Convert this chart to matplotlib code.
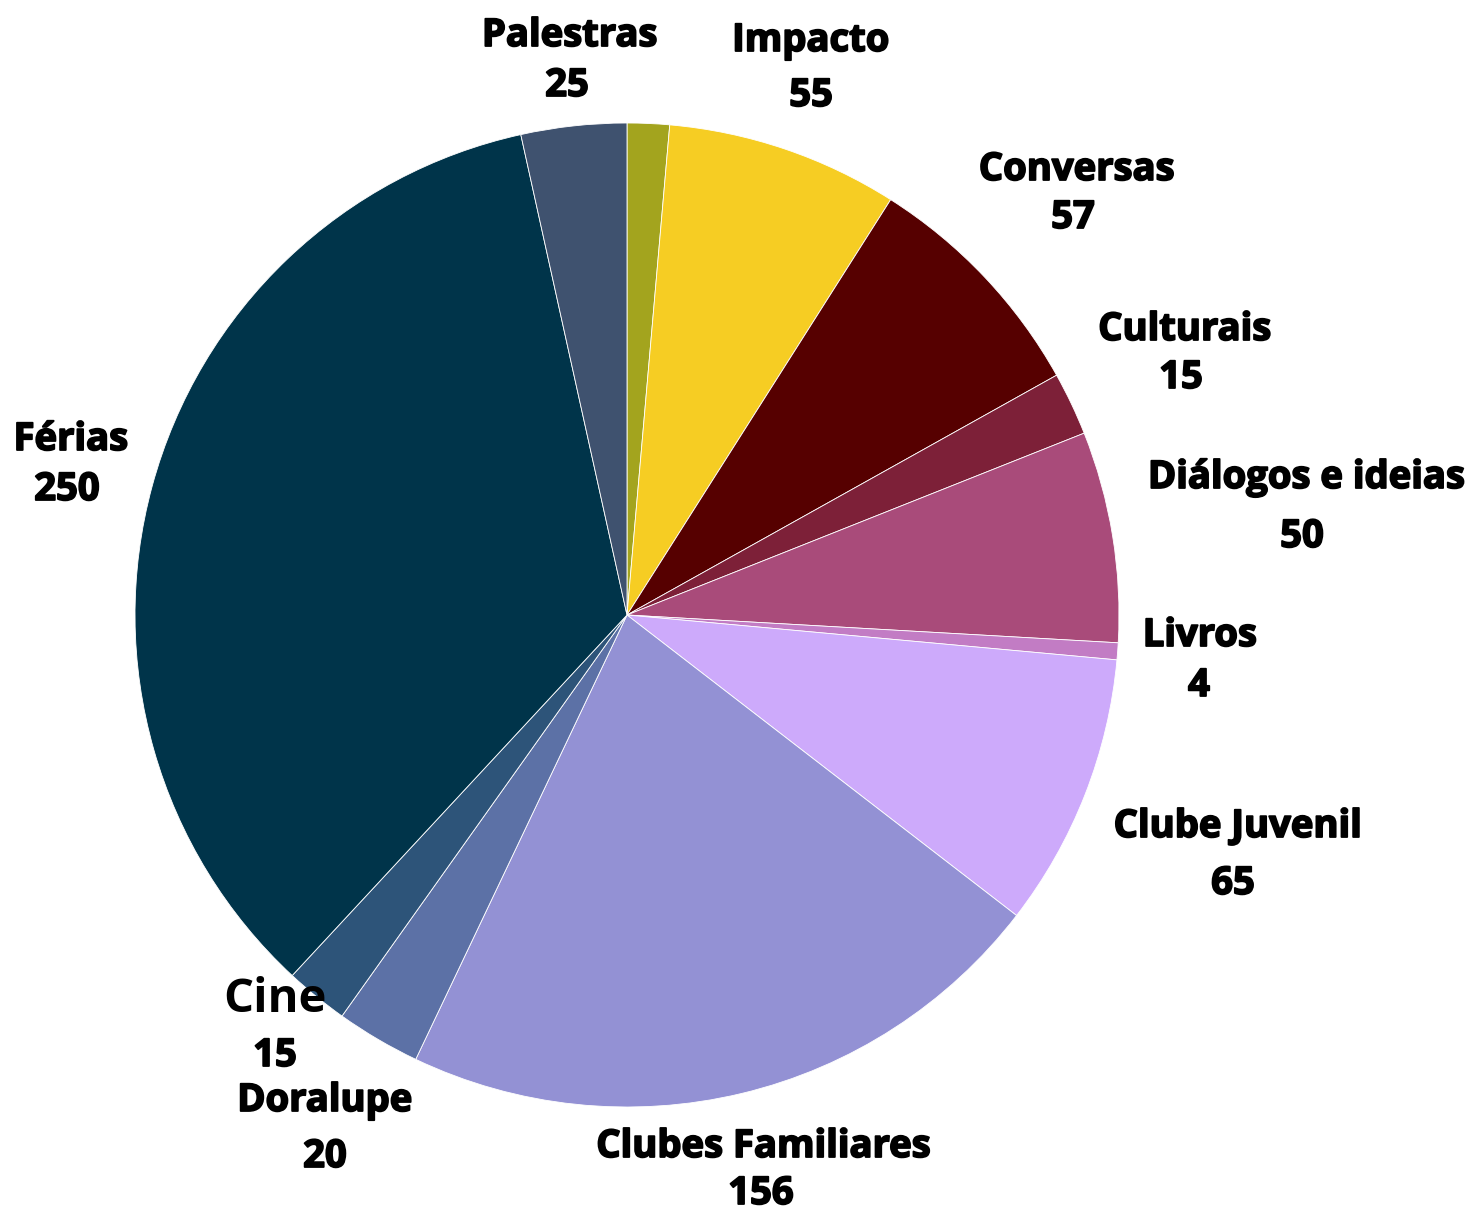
import matplotlib.pyplot as plt
import matplotlib.patheffects as pe

# fatias em sentido horario a partir do topo
nomes = ['', 'Impacto', 'Conversas', 'Culturais', 'Diálogos e ideias', 'Livros',
         'Clube Juvenil', 'Clubes Familiares', 'Doralupe', 'Cine', 'Férias', 'Palestras']
valores = [10, 55, 57, 15, 50, 4, 65, 156, 20, 15, 250, 25]
cores = ['#a3a41e', '#f6cd23', '#560000', '#7d2038', '#a94b7a', '#c27cc4',
         '#cdaafb', '#9391d4', '#5c71a6', '#2d5479', '#00344a', '#3f526f']

# posicoes dos rotulos (pixels da imagem: nome, valor)
pos_rotulos = {
    'Palestras': ((570, 36), (567, 86)),
    'Impacto': ((811, 41), (811, 96)),
    'Conversas': ((1077, 170), (1073, 218)),
    'Culturais': ((1185, 330), (1181, 378)),
    'Diálogos e ideias': ((1307, 478), (1302, 537)),
    'Livros': ((1200, 636), (1199, 686)),
    'Clube Juvenil': ((1238, 827), (1233, 884)),
    'Clubes Familiares': ((764, 1147), (761, 1194)),
    'Doralupe': ((325, 1101), (325, 1157)),
    'Cine': ((275, 1000), (275, 1056)),
    'Férias': ((71, 440), (67, 490)),
}

W, H = 1480, 1212
fig = plt.figure(figsize=(W / 100, H / 100), dpi=100)
ax = fig.add_axes([0, 0, 1, 1])

ax.pie(valores, colors=cores, startangle=90, counterclock=False,
       center=(627, H - 615), radius=492,
       wedgeprops={'edgecolor': 'white', 'linewidth': 0.6}, frame=True)
ax.set_xlim(0, W)
ax.set_ylim(0, H)
ax.set_aspect('equal')
ax.axis('off')

# contorno fino para imitar o Open Sans ExtraBold
grosso = [pe.withStroke(linewidth=1.3, foreground='black')]

for nome, v in zip(nomes, valores):
    if nome not in pos_rotulos:
        continue
    (nx, ny), (vx, vy) = pos_rotulos[nome]
    if nome == 'Cine':
        ax.text(nx, H - ny, nome, ha='center', va='center', color='black',
                family='Open Sans', weight='bold', fontsize=34)
    else:
        ax.text(nx, H - ny, nome, ha='center', va='center', color='black',
                family='Open Sans', weight='bold', fontsize=27.5, path_effects=grosso)
    ax.text(vx, H - vy, str(v), ha='center', va='center', color='black',
            family='Open Sans', weight='bold', fontsize=27.5, path_effects=grosso)

fig.savefig('out.png', dpi=100)
